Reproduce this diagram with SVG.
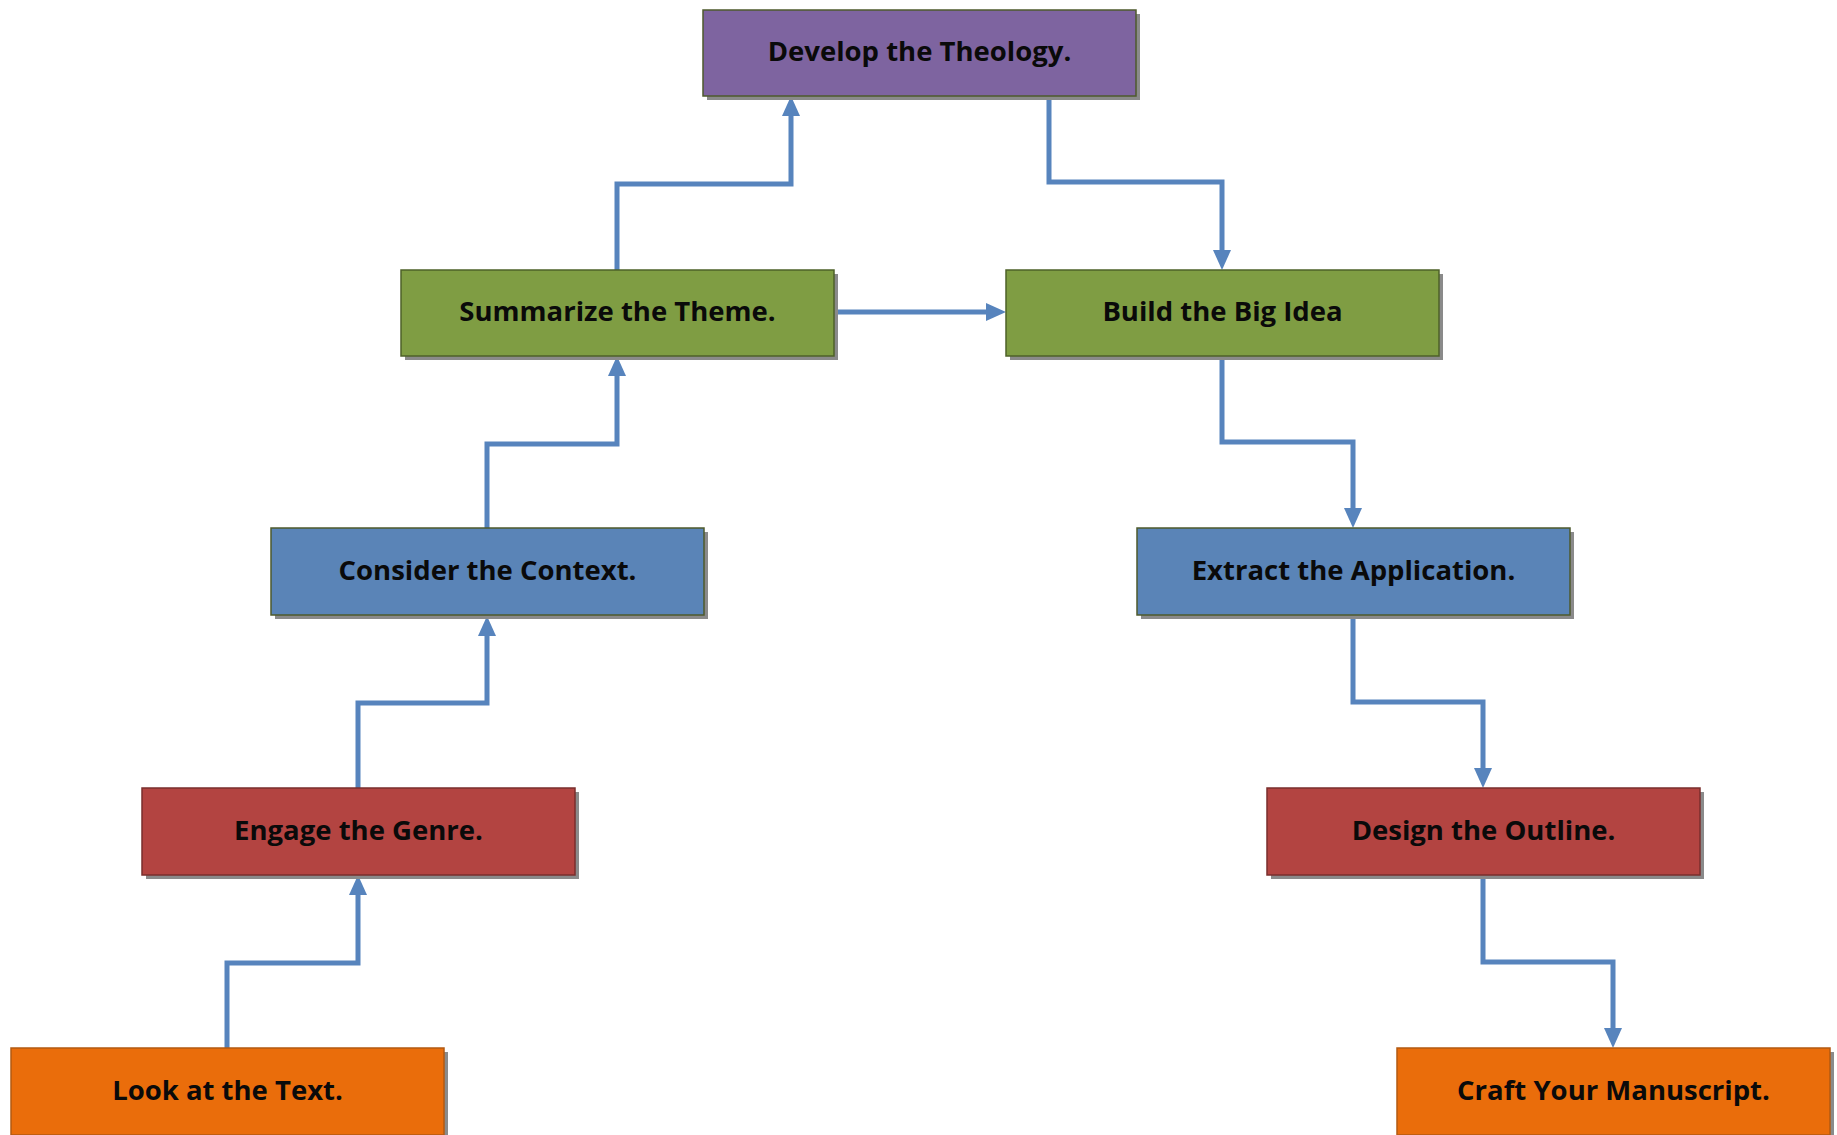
<svg xmlns="http://www.w3.org/2000/svg" width="1837" height="1135" viewBox="0 0 1837 1135">
<style>
.shadow{fill:#8a8a8a;}
.box{stroke-width:1.5;}
.lbl{font-family:"Open Sans","Liberation Sans",Arial,sans-serif;font-size:27.5px;font-weight:bold;fill:#0a0a0a;text-anchor:middle;}
.conn{fill:none;stroke:#5784BD;stroke-width:5;stroke-linejoin:miter;marker-end:url(#arr);}
</style>
<defs>
<marker id="arr" markerUnits="userSpaceOnUse" markerWidth="20" markerHeight="18" refX="10" refY="9" orient="auto">
<path d="M0,0 L20,9 L0,18 z" fill="#5784BD"/>
</marker>
</defs>
<rect width="1837" height="1135" fill="#ffffff"/>
<g id="connectors">
<path class="conn" d="M227,1048 V963 H358 V885"/>
<path class="conn" d="M358,788 V703 H487 V626"/>
<path class="conn" d="M487,528 V444 H617 V366"/>
<path class="conn" d="M617,270 V184 H791 V106"/>
<path class="conn" d="M1049,96 V182 H1222 V260"/>
<path class="conn" d="M834,312 H996"/>
<path class="conn" d="M1222,356 V442 H1353 V518"/>
<path class="conn" d="M1353,616 V702 H1483 V778"/>
<path class="conn" d="M1483,875 V962 H1613 V1038"/>
</g>
<g id="develop">
<rect class="shadow" x="707" y="14" width="433" height="86"/>
<rect class="box" x="703" y="10" width="433" height="86" fill="#7E64A0" stroke="#4E5A2C"/>
<text class="lbl" x="919.5" y="61">Develop the Theology.</text>
</g>
<g id="summarize">
<rect class="shadow" x="405" y="274" width="433" height="86"/>
<rect class="box" x="401" y="270" width="433" height="86" fill="#7F9D43" stroke="#4E6128"/>
<text class="lbl" x="617.5" y="321">Summarize the Theme.</text>
</g>
<g id="build">
<rect class="shadow" x="1010" y="274" width="433" height="86"/>
<rect class="box" x="1006" y="270" width="433" height="86" fill="#7F9D43" stroke="#4E6128"/>
<text class="lbl" x="1222.5" y="321">Build the Big Idea</text>
</g>
<g id="consider">
<rect class="shadow" x="275" y="532" width="433" height="87"/>
<rect class="box" x="271" y="528" width="433" height="87" fill="#5A84B7" stroke="#4E5A2C"/>
<text class="lbl" x="487.5" y="580">Consider the Context.</text>
</g>
<g id="extract">
<rect class="shadow" x="1141" y="532" width="433" height="87"/>
<rect class="box" x="1137" y="528" width="433" height="87" fill="#5A84B7" stroke="#4E5A2C"/>
<text class="lbl" x="1353.5" y="580">Extract the Application.</text>
</g>
<g id="engage">
<rect class="shadow" x="146" y="792" width="433" height="87"/>
<rect class="box" x="142" y="788" width="433" height="87" fill="#B34441" stroke="#7A2E2C"/>
<text class="lbl" x="358.5" y="840">Engage the Genre.</text>
</g>
<g id="design">
<rect class="shadow" x="1271" y="792" width="433" height="87"/>
<rect class="box" x="1267" y="788" width="433" height="87" fill="#B34441" stroke="#7A2E2C"/>
<text class="lbl" x="1483.5" y="840">Design the Outline.</text>
</g>
<g id="look">
<rect class="shadow" x="15" y="1052" width="433" height="87"/>
<rect class="box" x="11" y="1048" width="433" height="87" fill="#EA6D0B" stroke="#B25A12"/>
<text class="lbl" x="227.5" y="1100">Look at the Text.</text>
</g>
<g id="craft">
<rect class="shadow" x="1401" y="1052" width="433" height="87"/>
<rect class="box" x="1397" y="1048" width="433" height="87" fill="#EA6D0B" stroke="#B25A12"/>
<text class="lbl" x="1613.5" y="1100">Craft Your Manuscript.</text>
</g>
</svg>
